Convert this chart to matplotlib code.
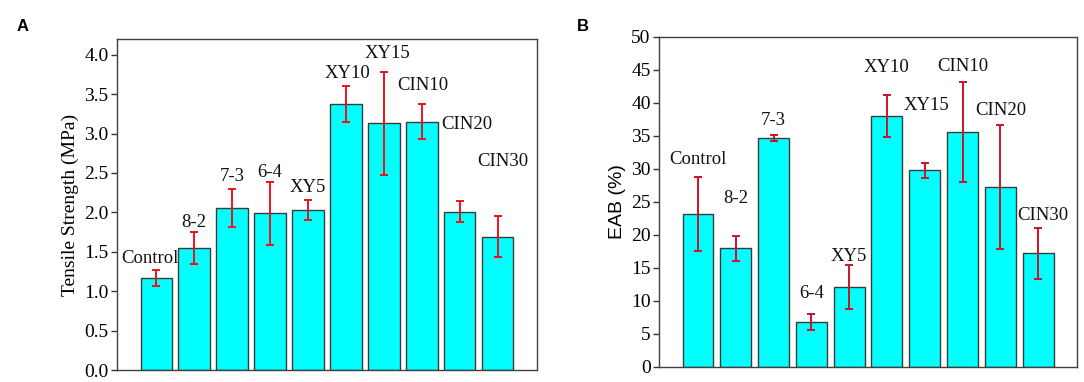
import matplotlib
matplotlib.use("Agg")
import matplotlib.pyplot as plt

# data
groups = ["Control", "8-2", "7-3", "6-4", "XY5", "XY10", "XY15", "CIN10", "CIN20", "CIN30"]

ts_mean = [1.17, 1.55, 2.06, 1.99, 2.03, 3.38, 3.13, 3.15, 2.01, 1.69]
ts_err = [0.10, 0.20, 0.24, 0.40, 0.13, 0.23, 0.65, 0.22, 0.13, 0.26]

eab_mean = [23.2, 18.0, 34.7, 6.8, 12.1, 38.0, 29.8, 35.6, 27.3, 17.2]
eab_err = [5.6, 1.9, 0.45, 1.2, 3.3, 3.2, 1.15, 7.6, 9.4, 3.9]

# label placement (x shift in bar units, y centre in data units)
ts_lab_dx = [-0.16, 0, 0, 0, 0, 0.03, 0.09, 0.03, 0.18, 0.14]
ts_lab_y = [1.42, 1.87, 2.46, 2.50, 2.32, 3.76, 4.01, 3.61, 3.12, 2.64]
eab_lab_dx = [0, 0, 0, 0, 0, 0, 0.05, 0, 0, 0.13]
eab_lab_y = [31.4, 25.5, 37.4, 11.1, 16.8, 45.3, 39.6, 45.5, 38.8, 22.9]

SERIF = "Liberation Serif"
SANS = "Liberation Sans"


def draw_panel(ax, means, errs, lab_dx, lab_y, ylim, yticks, ytl, ylabel, yfont, ecol):
    x = list(range(len(means)))
    ax.bar(x, means, width=0.82, color="#00ffff", edgecolor="#3a3a3a", linewidth=1.0)
    ax.errorbar(x, means, yerr=errs, fmt="none", ecolor=ecol, elinewidth=1.4,
                capsize=3, capthick=1.4)
    for i, name in enumerate(groups):
        ax.text(i + lab_dx[i], lab_y[i], name, ha="center", va="center",
                fontsize=13.5, family=SERIF, color="#111111")
    ax.set_xlim(-1.03, 10.03)
    ax.set_ylim(*ylim)
    ax.set_xticks([])
    ax.set_yticks(yticks)
    ax.set_yticklabels(ytl, fontsize=14, family=SERIF)
    ax.tick_params(axis="y", direction="out", length=4, width=1, color="#333333", pad=2)
    for s in ax.spines.values():
        s.set_color("#404040")
        s.set_linewidth(1.0)
    ax.set_ylabel(ylabel, fontsize=14, family=yfont, labelpad=4)


fig = plt.figure(figsize=(10.84, 3.82), dpi=100)
ax1 = fig.add_axes([0.1079, 0.0314, 0.3875, 0.8665])
ax2 = fig.add_axes([0.608, 0.0393, 0.3856, 0.8639])

ts_ticks = [i * 0.5 for i in range(9)]
draw_panel(ax1, ts_mean, ts_err, ts_lab_dx, ts_lab_y, (0, 4.2), ts_ticks,
           [f"{t:.1f}" for t in ts_ticks], "Tensile Strength (MPa)", SERIF, "#e8141c")

eab_ticks = list(range(0, 51, 5))
draw_panel(ax2, eab_mean, eab_err, eab_lab_dx, eab_lab_y, (0, 50), eab_ticks,
           [str(t) for t in eab_ticks], "EAB (%)", SANS, "#c8142a")

fig.text(0.0157, 0.93, "A", fontsize=12, fontweight="bold", family=SANS, va="center")
fig.text(0.5326, 0.93, "B", fontsize=12, fontweight="bold", family=SANS, va="center")

fig.savefig("out.png", dpi=100)
